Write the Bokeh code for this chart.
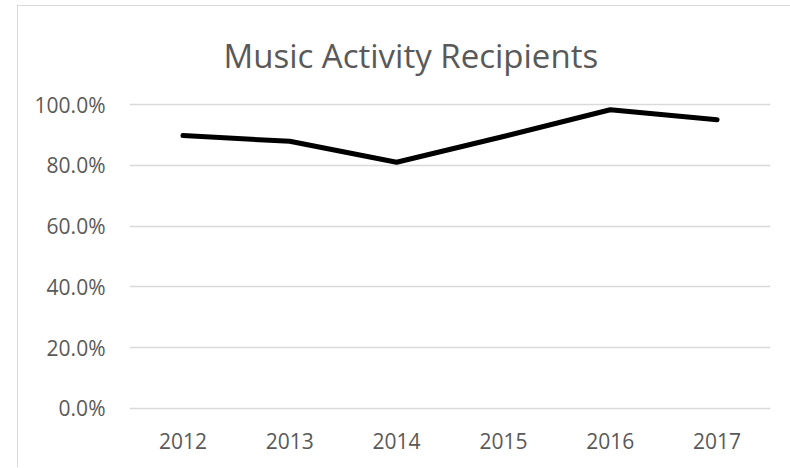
from bokeh.plotting import figure
from bokeh.models import Range1d, FixedTicker, PrintfTickFormatter
from bokeh.embed import file_html
from bokeh.resources import INLINE

years = ["2012", "2013", "2014", "2015", "2016", "2017"]
recipients_pct = [89.8, 87.9, 81.0, 89.5, 98.3, 95.0]
y_ticks = [0, 20, 40, 60, 80, 100]
title_text = "Music Activity Recipients"

FONT = "Open Sans"
GREY = "#595959"

p = figure(width=773, height=462, x_range=years, y_range=Range1d(-1, 101),
           output_backend="svg", toolbar_location=None,
           min_border_left=112, min_border_right=20,
           min_border_top=95, min_border_bottom=57)
p.margin = (5, 0, 0, 17)
p.styles = {
    "border-top": "1px solid #d9d9d9",
    "background-image": "linear-gradient(to right, #d9d9d9 0px, "
                        "#d9d9d9 1px, transparent 1px)",
}

p.line(x=years, y=recipients_pct, line_color="black", line_width=5,
       line_cap="round", line_join="round")

p.title.text = title_text
p.title.align = "left"
p.title.offset = 94
p.title.standoff = 47
p.title.text_font = FONT
p.title.text_font_size = "33px"
p.title.text_font_style = "normal"
p.title.text_color = GREY

p.outline_line_color = None
p.background_fill_color = "white"
p.border_fill_color = None

p.xgrid.grid_line_color = None
p.ygrid.grid_line_color = "#d9d9d9"
p.ygrid.grid_line_width = 1.3

p.yaxis.ticker = FixedTicker(ticks=y_ticks)
p.yaxis.formatter = PrintfTickFormatter(format="%.1f%%")
for ax in (p.xaxis, p.yaxis):
    ax.axis_line_color = None
    ax.major_tick_line_color = None
    ax.minor_tick_line_color = None
    ax.major_label_text_font = FONT
    ax.major_label_text_font_size = "21px"
    ax.major_label_text_color = GREY
p.yaxis.major_label_standoff = 18
p.xaxis.major_label_standoff = 15

open("out.html", "w").write(file_html(p, INLINE))
